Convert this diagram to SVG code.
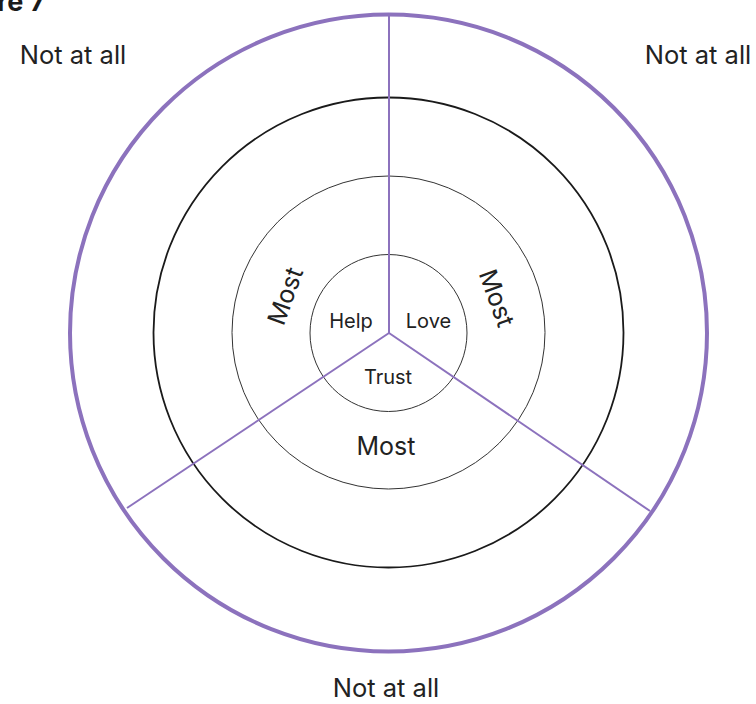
<svg xmlns="http://www.w3.org/2000/svg" width="756" height="704" viewBox="0 0 756 704">
<style>
  .lbl { font-family: Inter, "Liberation Sans", sans-serif; fill: #222; }
  .big { font-size: 25.5px; }
  .mid { font-size: 25px; }
  .small { font-size: 20px; }
  .ring { fill: none; }
  .purple { stroke: #8c72bd; }
</style>
<rect width="756" height="704" fill="#ffffff"/>
<text x="-3" y="11" class="lbl" style="font-size:27px;font-weight:700;fill:#1a1a1a">re 7</text>
<g id="outer-ring"><circle cx="388.5" cy="333" r="318.5" class="ring purple" stroke-width="4"/></g>
<g id="ring-2"><circle cx="388.5" cy="332.5" r="235" class="ring" stroke="#1a1a1a" stroke-width="1.8"/></g>
<g id="ring-3"><circle cx="388.5" cy="332.5" r="156.5" class="ring" stroke="#333" stroke-width="1"/></g>
<g id="ring-4"><circle cx="388.5" cy="333" r="78.5" class="ring" stroke="#333" stroke-width="1"/></g>
<g id="connectors" class="purple" stroke-width="2" fill="none">
  <line x1="389" y1="333" x2="389" y2="15"/>
  <line x1="389" y1="333" x2="127" y2="508"/>
  <line x1="389" y1="333" x2="650" y2="511"/>
</g>
<g id="label-help"><text x="351" y="327.5" text-anchor="middle" class="lbl small">Help</text></g>
<g id="label-love"><text x="428.5" y="327.5" text-anchor="middle" class="lbl small">Love</text></g>
<g id="label-trust"><text x="388" y="384" text-anchor="middle" class="lbl small">Trust</text></g>
<g id="label-most-left"><text transform="translate(285,296) rotate(-70)" x="0" y="9" text-anchor="middle" class="lbl mid">Most</text></g>
<g id="label-most-right"><text transform="translate(497,298) rotate(70)" x="0" y="9" text-anchor="middle" class="lbl mid">Most</text></g>
<g id="label-most-bottom"><text x="386" y="455" text-anchor="middle" class="lbl mid">Most</text></g>
<g id="label-nat-left"><text x="73" y="64" text-anchor="middle" class="lbl big">Not at all</text></g>
<g id="label-nat-right"><text x="698" y="64" text-anchor="middle" class="lbl big">Not at all</text></g>
<g id="label-nat-bottom"><text x="386" y="697" text-anchor="middle" class="lbl big">Not at all</text></g>
</svg>
